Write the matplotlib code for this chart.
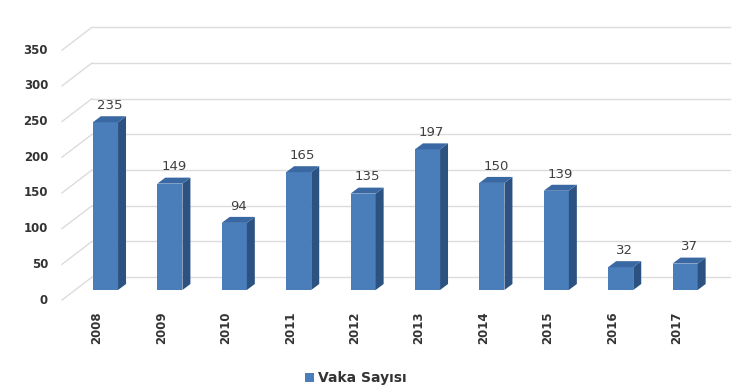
import matplotlib
matplotlib.use("Agg")
import matplotlib.pyplot as plt
from matplotlib.patches import Polygon, Patch
import numpy as np

years = ["2008", "2009", "2010", "2011", "2012", "2013", "2014", "2015", "2016", "2017"]
values = [235, 149, 94, 165, 135, 197, 150, 139, 32, 37]
yticks = [0, 50, 100, 150, 200, 250, 300, 350]
series_name = "Vaka Sayısı"

W, H = 750, 392
fig = plt.figure(figsize=(W / 100, H / 100), dpi=100)
ax = fig.add_axes([62 / W, (H - 300) / H, (730 - 62) / W, (300 - 20) / H])
ax.set_xlim(-0.675, 9.697)
ax.set_ylim(-14, 378.2)

# 3D look parameters (data units)
wall_dx, wall_dy = 0.465, 32.0      # from front floor edge to back wall
back_x0 = -0.675 + wall_dx
bar_w = 0.39
side_dx, side_dy = 0.124, 8.4
grid_col = "#DCDCDC"

# back wall gridlines + left diagonals
for v in yticks:
    yb = v + 18.0
    ax.plot([back_x0, 9.697], [yb, yb], color=grid_col, lw=1.0, zorder=1, clip_on=False)
    ax.plot([-0.675, back_x0], [yb - wall_dy, yb], color=grid_col, lw=1.0, zorder=1, clip_on=False)

front_col = "#4A7EBB"
side_col = "#2C5282"
top_col = "#3A68A3"
x = np.arange(len(values))
bars = ax.bar(x, values, width=bar_w, color=front_col, zorder=3)
for b, v in zip(bars, values):
    x0 = b.get_x()
    x1 = x0 + b.get_width()
    side = Polygon([(x1, 0), (x1 + side_dx, side_dy), (x1 + side_dx, v + side_dy), (x1, v)],
                   closed=True, facecolor=side_col, edgecolor="none", zorder=3)
    top = Polygon([(x0, v), (x0 + side_dx, v + side_dy), (x1 + side_dx, v + side_dy), (x1, v)],
                  closed=True, facecolor=top_col, edgecolor="none", zorder=3)
    ax.add_patch(side)
    ax.add_patch(top)
    ax.annotate(str(v), (b.get_x() + b.get_width() / 2 + side_dx / 2, v + side_dy),
                xytext=(0, 3), textcoords="offset points", ha="center", va="bottom",
                fontsize=9.5, color="#404040", zorder=4)

ax.set_yticks([v - 12 for v in yticks])
ax.set_yticklabels([str(v) for v in yticks], fontsize=8.5, fontweight="bold", color="#333333")
ax.set_xticks(x - 0.13)
ax.set_xticklabels(years, rotation=90, fontsize=8.5, fontweight="bold", color="#333333")
ax.tick_params(axis="y", length=0, pad=10)
ax.tick_params(axis="x", length=0, pad=8)
for s in ax.spines.values():
    s.set_visible(False)
ax.set_facecolor("none")

fig.legend(handles=[Patch(facecolor=front_col, label=series_name)], loc="center",
           bbox_to_anchor=(356 / W, 1 - 378 / H), frameon=False,
           prop={"weight": "bold", "size": 10}, handlelength=0.6, handleheight=0.6,
           handletextpad=0.3, labelcolor="#333333")

fig.savefig("out.png", dpi=100, facecolor="white")
